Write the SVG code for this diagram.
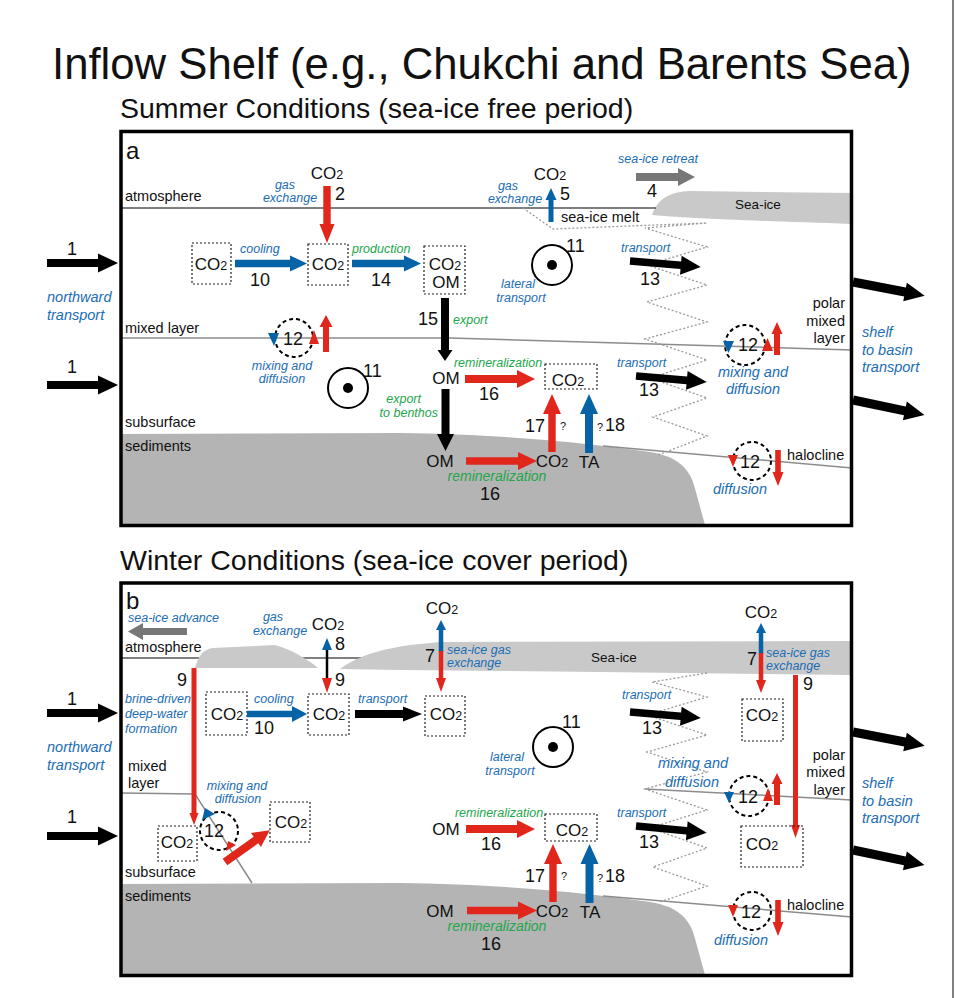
<svg xmlns="http://www.w3.org/2000/svg" width="956" height="998" viewBox="0 0 956 998">
<style>
text{font-family:"Liberation Sans",Arial,sans-serif;fill:#111}
.t1{font-size:43.7px}
.t2{font-size:28.5px}
.pl{font-size:24px}
.lb{font-size:14.5px}
.num{font-size:18px}
.co{font-size:17px}
.s2{font-size:12.5px}
.q{font-size:11px}
.bi{font-style:italic;fill:#1b6db4;font-size:12.5px}
.bi2{font-style:italic;fill:#1b6db4;font-size:14.5px}
.gi{font-style:italic;fill:#22a64b;font-size:12.5px}
.gi2{font-style:italic;fill:#22a64b;font-size:14px}
.m{text-anchor:middle}
.e{text-anchor:end}
.frame{fill:none;stroke:#000;stroke-width:3.5}
.box{fill:none;stroke:#222;stroke-width:1.2;stroke-dasharray:2 2}
.sed{fill:#b4b4b4}
.ice{fill:#c9c9c9}
.lyr{fill:none;stroke:#8c8c8c;stroke-width:1.5}
.atm{stroke:#000;stroke-width:1.2}
.zz{fill:none;stroke:#9a9a9a;stroke-width:1.3;stroke-dasharray:2 2}
.dc{fill:none;stroke:#000;stroke-width:2;stroke-dasharray:4 3}
.oc{fill:#fff;stroke:#000;stroke-width:2}
.R{fill:#e1261c}.B{fill:#0563a6}.K{fill:#000}.G{fill:#777}
.rl{stroke:#e1261c}.bl{stroke:#0563a6}.kl{stroke:#000}
</style>
<defs>
<path id="blk" d="M0,-4 H51 V-9.5 L71,0 L51,9.5 V4 H0 Z"/>
<path id="exit" d="M0,-4.5 H53 V-9.5 L73,0 L53,9.5 V4.5 H0 Z"/>
<path id="t13" d="M0,-3.8 H51 V-9.5 L71,0 L51,9.5 V3.8 H0 Z"/>
<g id="bull"><circle r="20" class="oc"/><circle r="5" class="K"/></g>
</defs>
<rect x="0" y="0" width="956" height="998" fill="#fff"/>
<line x1="953" y1="0" x2="953" y2="998" stroke="#000" stroke-width="1"/>

<text class="t1" x="52" y="79">Inflow Shelf (e.g., Chukchi and Barents Sea)</text>
<text class="t2" x="120" y="118">Summer Conditions (sea-ice free period)</text>
<text class="t2" x="120" y="570">Winter Conditions (sea-ice cover period)</text>

<!-- ================= PANEL A ================= -->
<g id="panel-a-background">
<path class="sed" d="M121,434 L400,433 C500,434 590,443 650,452 C675,456 688,466 694,485 L705,525 L121,525 Z"/>
<path class="ice" d="M852,193 L690,191 C670,192 658,198 652,215 C680,218 760,221 852,224 Z"/>
<line class="atm" x1="121" y1="208" x2="656" y2="208"/>
<polyline class="lyr" points="121,338 450,338 852,350"/>
<line class="lyr" x1="603" y1="446" x2="852" y2="468"/>
<polyline class="zz" points="523,208 553,229 707,223 645,228 707,247 647,265 707,285 647,302 707,322 645,339 707,360 650,378 707,398 653,417 707,436 658,455"/>
<rect class="frame" x="121" y="131.5" width="730.5" height="394"/>
<text class="pl" x="126" y="159">a</text>
<text class="lb" x="125" y="201">atmosphere</text>
<text class="lb" x="125" y="333">mixed layer</text>
<text class="lb" x="125" y="427">subsurface</text>
<text class="lb" x="125" y="451">sediments</text>
<text x="758" y="209" class="m" style="font-size:13.5px">Sea-ice</text>
<text class="lb e" x="845" y="308">polar</text>
<text class="lb e" x="845" y="326">mixed</text>
<text class="lb e" x="845" y="343">layer</text>
<text class="lb" x="787" y="460">halocline</text>
</g>

<g id="a-inflow">
<use href="#blk" transform="translate(47,263)" class="K"/>
<use href="#blk" transform="translate(47,385)" class="K"/>
<text class="num m" x="72" y="255">1</text>
<text class="num m" x="72" y="373">1</text>
<text class="bi2" x="47" y="302">northward</text>
<text class="bi2" x="47" y="320">transport</text>
</g>
<g id="a-outflow">
<use href="#exit" transform="translate(853,282) rotate(10.9)" class="K"/>
<use href="#exit" transform="translate(853,400) rotate(11.8)" class="K"/>
<text class="bi2" x="862" y="337">shelf</text>
<text class="bi2" x="862" y="355">to basin</text>
<text class="bi2" x="862" y="372">transport</text>
</g>

<g id="a-co2-atm-left">
<text class="co m" x="327" y="179">CO<tspan class="s2">2</tspan></text>
<text class="bi m" x="285" y="189">gas</text>
<text class="bi m" x="290" y="202">exchange</text>
<path class="R" d="M323.3,186 V224 H319.5 L327,243 L334.5,224 H330.7 V186 Z"/>
<text class="num" x="335" y="200">2</text>
</g>
<g id="a-box1"><rect class="box" x="192" y="243" width="39" height="41"/><text class="co m" x="211" y="270">CO<tspan class="s2">2</tspan></text></g>
<g id="a-box2"><rect class="box" x="308" y="244" width="40" height="41"/><text class="co m" x="328" y="270">CO<tspan class="s2">2</tspan></text></g>
<g id="a-box3"><rect class="box" x="424" y="246" width="41" height="48"/><text class="co m" x="445" y="270">CO<tspan class="s2">2</tspan></text><text class="co m" x="446" y="288">OM</text></g>
<g id="a-cooling">
<path class="B" d="M235,259.8 H290 V255.5 L307,263.5 L290,271.5 V267.2 H235 Z"/>
<text class="bi" x="240" y="253">cooling</text>
<text class="num m" x="260" y="286">10</text>
</g>
<g id="a-production">
<path class="B" d="M352,259.8 H404 V255.5 L421,263.5 L404,271.5 V267.2 H352 Z"/>
<text class="gi" x="352" y="253">production</text>
<text class="num m" x="381" y="286">14</text>
</g>
<g id="a-export">
<path class="K" d="M441,298 V350 H437.5 L445,361 L452.5,350 H449 V298 Z"/>
<text class="num" x="418" y="325">15</text>
<text class="gi" x="453" y="324">export</text>
<text class="co m" x="446" y="384">OM</text>
<path class="K" d="M441.5,389 V434 H437 L445.5,451 L454,434 H449.5 V389 Z"/>
<text class="gi e" x="421" y="403">export</text>
<text class="gi e" x="438" y="417">to benthos</text>
</g>
<g id="a-remin-water">
<path class="R" d="M465,375 H517 V370 L535,379 L517,388 V383 H465 Z"/>
<text class="gi m" x="498" y="367">remineralization</text>
<text class="num m" x="489" y="400">16</text>
<rect class="box" x="545" y="364" width="52" height="25"/>
<text class="co m" x="568" y="386">CO<tspan class="s2">2</tspan></text>
</g>
<g id="a-remin-sed">
<text class="co m" x="440" y="467">OM</text>
<path class="R" d="M466,457.3 H518 V452 L537,461 L518,470 V464.7 H466 Z"/>
<text class="co m" x="552" y="467">CO<tspan class="s2">2</tspan></text>
<text class="gi2 m" x="497" y="481">remineralization</text>
<text class="num m" x="490" y="500">16</text>
<path class="R" d="M548.3,452 V414 H543 L552,394 L561,414 H555.7 V452 Z"/>
<text class="num m" x="535" y="432">17</text>
<text class="q" x="560" y="430">?</text>
<path class="B" d="M585,453 V414 H580 L589,394 L598,414 H593 V453 Z"/>
<text class="q" x="597" y="431">?</text>
<text class="num" x="605" y="431">18</text>
<text class="co m" x="589" y="468">TA</text>
</g>
<g id="a-mix-left">
<circle class="dc" cx="294" cy="338" r="19"/>
<text class="num m" x="293" y="345">12</text>
<polygon class="B" points="268,333 279,333 274,346"/>
<polygon class="R" points="309,344 319,344 314,330"/>
<path class="R" d="M323,352 V327 H319.5 L326,315 L332.5,327 H329 V352 Z"/>
<text class="bi m" x="282" y="370">mixing and</text>
<text class="bi m" x="282" y="383">diffusion</text>
</g>
<g id="a-lateral-left">
<use href="#bull" transform="translate(348,388)"/>
<text class="num" x="363" y="377">11</text>
</g>
<g id="a-lateral-right">
<use href="#bull" transform="translate(552,265)"/>
<text class="num" x="566" y="252">11</text>
<text class="bi m" x="518" y="288">lateral</text>
<text class="bi m" x="521" y="302">transport</text>
</g>
<g id="a-seaice-melt">
<text class="co m" x="550" y="180">CO<tspan class="s2">2</tspan></text>
<path class="B" d="M548.5,222 V200 H545.5 L551,188 L556.5,200 H553.5 V222 Z"/>
<text class="num" x="560" y="200">5</text>
<text class="bi m" x="508" y="190">gas</text>
<text class="bi m" x="515" y="203">exchange</text>
<text class="lb" x="561" y="222">sea-ice melt</text>
</g>
<g id="a-retreat">
<path class="G" d="M636,173 H678 V168 L695,177 L678,186 V181 H636 Z"/>
<text class="bi" x="618" y="163">sea-ice retreat</text>
<text class="num m" x="652" y="197">4</text>
</g>
<g id="a-transport">
<use href="#t13" transform="translate(630,261) rotate(4.8)" class="K"/>
<text class="bi" x="621" y="252">transport</text>
<text class="num m" x="650" y="285">13</text>
<use href="#t13" transform="translate(636,376) rotate(4.9)" class="K"/>
<text class="bi" x="617" y="367">transport</text>
<text class="num m" x="649" y="396">13</text>
</g>
<g id="a-mix-right">
<circle class="dc" cx="745" cy="345" r="20"/>
<text class="num m" x="748" y="351">12</text>
<polygon class="B" points="723,341 734,341 728.5,353"/>
<polygon class="R" points="762,351 773,351 767.5,338"/>
<path class="R" d="M774,355 V334 H771.5 L777,322 L782.5,334 H780 V355 Z"/>
<text class="bi2 m" x="753" y="377">mixing and</text>
<text class="bi2 m" x="753" y="394">diffusion</text>
</g>
<g id="a-halocline">
<circle class="dc" cx="752" cy="461" r="19"/>
<text class="num m" x="750" y="468">12</text>
<polygon class="R" points="728,455 738,455 733,467"/>
<path class="R" d="M775.2,450 V472 H772.5 L778,486 L783.5,472 H780.8 V450 Z"/>
<text class="bi2 m" x="740" y="494">diffusion</text>
</g>

<!-- ================= PANEL B ================= -->
<g id="panel-b-background">
<path class="sed" d="M121,884 L400,883 C500,884 590,893 650,902 C675,906 688,916 694,935 L705,975 L121,975 Z"/>
<line class="atm" x1="121" y1="658" x2="852" y2="658"/>
<path class="ice" d="M195,668 C198,657 202,650 212,648 L275,645 C292,650 306,658 318,668 Z"/>
<path class="ice" d="M340,669 C355,658 375,650 410,645 L440,642 L852,641 L852,675 L600,672 L400,670 Z"/>
<polyline class="lyr" points="121,793 195,794 252,883"/>
<line class="lyr" x1="645" y1="789" x2="852" y2="800"/>
<line class="lyr" x1="603" y1="896" x2="852" y2="917"/>
<polyline class="zz" points="707,673 652,682 707,697 647,715 707,735 647,752 707,772 645,789 707,810 650,828 707,848 653,867 707,886 660,902"/>
<rect class="frame" x="121" y="583" width="730.5" height="392.5"/>
<text class="pl" x="126" y="609">b</text>
<text class="lb" x="125" y="652">atmosphere</text>
<text class="lb" x="128" y="771">mixed</text>
<text class="lb" x="128" y="788">layer</text>
<text class="lb" x="125" y="877">subsurface</text>
<text class="lb" x="125" y="901">sediments</text>
<text x="614" y="662" class="m" style="font-size:13.5px">Sea-ice</text>
<text class="lb e" x="845" y="760">polar</text>
<text class="lb e" x="845" y="777">mixed</text>
<text class="lb e" x="845" y="795">layer</text>
<text class="lb" x="787" y="910">halocline</text>
</g>

<g id="b-inflow">
<use href="#blk" transform="translate(47,713)" class="K"/>
<use href="#blk" transform="translate(47,836)" class="K"/>
<text class="num m" x="72" y="705">1</text>
<text class="num m" x="72" y="823">1</text>
<text class="bi2" x="47" y="752">northward</text>
<text class="bi2" x="47" y="770">transport</text>
</g>
<g id="b-outflow">
<use href="#exit" transform="translate(853,732) rotate(10.9)" class="K"/>
<use href="#exit" transform="translate(853,850) rotate(11.8)" class="K"/>
<text class="bi2" x="862" y="788">shelf</text>
<text class="bi2" x="862" y="806">to basin</text>
<text class="bi2" x="862" y="823">transport</text>
</g>
<g id="b-advance">
<path class="G" d="M187,628 H143 V623 L128,631.5 L143,640 V635 H187 Z"/>
<text class="bi" x="128" y="622">sea-ice advance</text>
</g>
<g id="b-gas-left">
<text class="bi m" x="273" y="621">gas</text>
<text class="bi m" x="280" y="635">exchange</text>
<text class="co m" x="328" y="630">CO<tspan class="s2">2</tspan></text>
<line class="kl" x1="327" y1="649" x2="327" y2="679" stroke-width="2.5"/>
<polygon class="B" points="322,650 327,638 332,650"/>
<polygon class="R" points="322,678 327,693 332,678"/>
<text class="num" x="335" y="650">8</text>
<text class="num" x="335" y="686">9</text>
</g>
<g id="b-brine">
<line class="rl" x1="194" y1="668" x2="194" y2="814" stroke-width="5"/>
<polygon class="R" points="189.5,813 194,825 198.5,813"/>
<text class="num" x="177" y="686">9</text>
<text class="bi" x="125" y="703">brine-driven</text>
<text class="bi" x="125" y="718">deep-water</text>
<text class="bi" x="125" y="733">formation</text>
</g>
<g id="b-box1"><rect class="box" x="206" y="692" width="41" height="43"/><text class="co m" x="227" y="720">CO<tspan class="s2">2</tspan></text></g>
<g id="b-cooling">
<path class="B" d="M247,710.8 H292 V706 L307,714 L292,722 V717.2 H247 Z"/>
<text class="bi" x="254" y="703">cooling</text>
<text class="num m" x="264" y="734">10</text>
</g>
<g id="b-box2"><rect class="box" x="308" y="694" width="41" height="41"/><text class="co m" x="329" y="720">CO<tspan class="s2">2</tspan></text></g>
<g id="b-transport1">
<path class="K" d="M355,710 H403 V706.5 L422,714 L403,721.5 V718 H355 Z"/>
<text class="bi" x="358" y="703">transport</text>
</g>
<g id="b-box3"><rect class="box" x="425" y="696" width="40" height="40"/><text class="co m" x="446" y="720">CO<tspan class="s2">2</tspan></text></g>
<g id="b-gas-center">
<text class="co m" x="442" y="614">CO<tspan class="s2">2</tspan></text>
<line class="bl" x1="441" y1="629" x2="441" y2="652" stroke-width="4.5"/>
<line class="rl" x1="441" y1="651" x2="441" y2="679" stroke-width="4.5"/>
<polygon class="B" points="436,630 441,620 446,630"/>
<polygon class="R" points="436,678 441,692 446,678"/>
<text class="num" x="425" y="662">7</text>
<text class="bi" x="447" y="654">sea-ice gas</text>
<text class="bi" x="447" y="667">exchange</text>
</g>
<g id="b-gas-right">
<text class="co m" x="761" y="618">CO<tspan class="s2">2</tspan></text>
<line class="bl" x1="761" y1="632" x2="761" y2="654" stroke-width="4.5"/>
<line class="rl" x1="761" y1="653" x2="761" y2="681" stroke-width="4.5"/>
<polygon class="B" points="756,633 761,623 766,633"/>
<polygon class="R" points="756,680 761,693 766,680"/>
<text class="num" x="747" y="665">7</text>
<text class="bi" x="766" y="657">sea-ice gas</text>
<text class="bi" x="766" y="670">exchange</text>
<rect class="box" x="742" y="699" width="41" height="42"/>
<text class="co m" x="762" y="721">CO<tspan class="s2">2</tspan></text>
</g>
<g id="b-brine-right">
<line class="rl" x1="795.5" y1="675" x2="795.5" y2="826" stroke-width="5"/>
<polygon class="R" points="791,825 795.5,838 800,825"/>
<text class="num" x="803" y="690">9</text>
<rect class="box" x="741" y="826" width="62" height="41"/>
<text class="co m" x="762" y="850">CO<tspan class="s2">2</tspan></text>
</g>
<g id="b-lateral">
<use href="#bull" transform="translate(553,747)"/>
<text class="num" x="562" y="728">11</text>
<text class="bi m" x="507" y="761">lateral</text>
<text class="bi m" x="510" y="775">transport</text>
</g>
<g id="b-transport">
<use href="#t13" transform="translate(630,712) rotate(4.8)" class="K"/>
<text class="bi" x="622" y="699">transport</text>
<text class="num m" x="652" y="734">13</text>
<use href="#t13" transform="translate(636,826) rotate(5.4)" class="K"/>
<text class="bi" x="617" y="817">transport</text>
<text class="num m" x="649" y="848">13</text>
</g>
<g id="b-mix-right">
<text class="bi2 m" x="693" y="768">mixing and</text>
<text class="bi2 m" x="692" y="787">diffusion</text>
<circle class="dc" cx="749" cy="796" r="20"/>
<text class="num m" x="748" y="803">12</text>
<polygon class="B" points="724,792 734,792 729,803"/>
<polygon class="R" points="763,801 773,801 768,788"/>
<path class="R" d="M774,805 V784 H771.5 L777,773 L782.5,784 H780 V805 Z"/>
</g>
<g id="b-halocline">
<circle class="dc" cx="752" cy="911" r="19"/>
<text class="num m" x="751" y="918">12</text>
<polygon class="R" points="728,905 738,905 733,917"/>
<path class="R" d="M775.2,900 V922 H772.5 L778,936 L783.5,922 H780.8 V900 Z"/>
<text class="bi2 m" x="741" y="945">diffusion</text>
</g>
<g id="b-mix-left">
<rect class="box" x="158" y="826" width="39" height="35"/>
<text class="co m" x="177" y="848">CO<tspan class="s2">2</tspan></text>
<circle class="dc" cx="219" cy="831" r="19"/>
<text class="num m" x="214" y="837">12</text>
<polygon class="B" points="202,820 205,808 215,814"/>
<polygon class="R" points="228,841 236,845 226,851"/>
<text class="bi m" x="237" y="790">mixing and</text>
<text class="bi m" x="238" y="803">diffusion</text>
<path class="R" d="M0,-4 H38 V-8.5 L55,0 L38,8.5 V4 H0 Z" transform="translate(225,862) rotate(-35.4)"/>
<rect class="box" x="270" y="802" width="40" height="40"/>
<text class="co m" x="291" y="828">CO<tspan class="s2">2</tspan></text>
</g>
<g id="b-remin-water">
<text class="co m" x="446" y="835">OM</text>
<path class="R" d="M466,825 H517 V820 L535,829 L517,838 V833 H466 Z"/>
<text class="gi m" x="499" y="817">remineralization</text>
<text class="num m" x="491" y="850">16</text>
<rect class="box" x="545" y="814" width="52" height="27"/>
<text class="co m" x="572" y="836">CO<tspan class="s2">2</tspan></text>
</g>
<g id="b-remin-sed">
<text class="co m" x="440" y="917">OM</text>
<path class="R" d="M467,906.8 H518 V901.5 L537,910.5 L518,919.5 V914.2 H467 Z"/>
<text class="co m" x="552" y="917">CO<tspan class="s2">2</tspan></text>
<text class="gi2 m" x="497" y="931">remineralization</text>
<text class="num m" x="491" y="950">16</text>
<path class="R" d="M549.3,902 V864 H544 L553,844 L562,864 H556.7 V902 Z"/>
<text class="num m" x="535" y="882">17</text>
<text class="q" x="561" y="880">?</text>
<path class="B" d="M585.5,903 V864 H580.5 L589.5,844 L598.5,864 H593.5 V903 Z"/>
<text class="q" x="597" y="882">?</text>
<text class="num" x="605" y="882">18</text>
<text class="co m" x="590" y="918">TA</text>
</g>
</svg>
